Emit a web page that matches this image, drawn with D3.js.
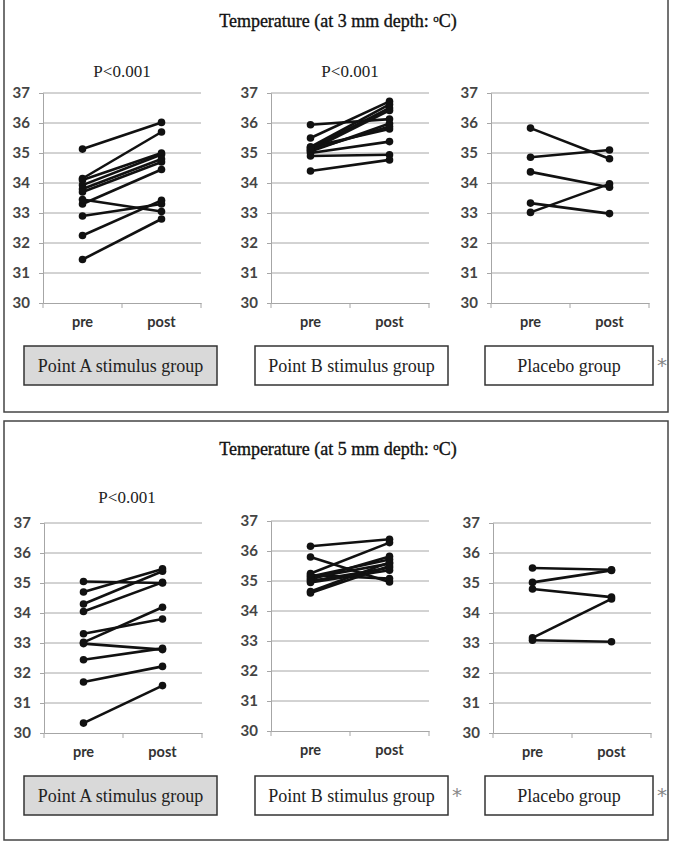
<!DOCTYPE html>
<html>
<head>
<meta charset="utf-8">
<script src="https://cdn.jsdelivr.net/npm/d3@7"></script>
<style>
  html, body { margin: 0; padding: 0; background: #fff; }
  svg { display: block; }
</style>
</head>
<body>
<svg id="chart" width="673" height="850"></svg>
<script>
// ---------------- DATA ----------------
const categories = ["pre", "post"];
const yTicks = [30, 31, 32, 33, 34, 35, 36, 37];
const groupNames = ["Point A stimulus group", "Point B stimulus group", "Placebo group"];
const titles = ["Temperature (at 3 mm depth: ", "Temperature (at 5 mm depth: "];
const pLabels3mm = ["P<0.001", "P<0.001", ""];
const pLabels5mm = ["P<0.001", "", ""];
const asterisks3mm = [false, false, true];
const asterisks5mm = [false, true, true];

// 3 mm depth
const d3mmA_pre  = [35.13, 34.15, 34.10, 33.93, 33.80, 33.70, 33.30, 33.45, 32.90, 32.25, 31.45];
const d3mmA_post = [36.02, 35.70, 35.00, 34.95, 34.80, 34.70, 34.45, 33.05, 33.30, 33.42, 32.80];
const d3mmB_pre  = [35.94, 35.50, 35.20, 35.15, 35.10, 35.05, 35.20, 35.10, 35.00, 34.90, 34.40];
const d3mmB_post = [36.13, 36.72, 36.62, 36.50, 36.42, 35.98, 35.80, 35.88, 35.38, 34.94, 34.77];
const d3mmP_pre  = [35.83, 34.86, 34.37, 33.33, 33.02];
const d3mmP_post = [34.81, 35.10, 33.86, 32.98, 33.97];

// 5 mm depth
const d5mmA_pre  = [35.05, 34.70, 34.30, 34.05, 33.31, 33.02, 32.98, 32.44, 31.70, 30.33];
const d5mmA_post = [35.00, 35.47, 35.39, 35.02, 33.80, 34.19, 32.78, 32.82, 32.22, 31.58];
const d5mmB_pre  = [36.16, 35.80, 35.25, 35.20, 35.15, 35.10, 35.05, 35.00, 34.95, 34.65, 34.60];
const d5mmB_post = [36.39, 34.97, 36.28, 35.08, 35.72, 35.58, 35.82, 35.44, 35.36, 35.62, 35.50];
const d5mmP_pre  = [35.50, 35.02, 34.80, 33.17, 33.09];
const d5mmP_post = [35.44, 35.42, 34.53, 34.47, 33.04];

const sections = [
  { pre: [d3mmA_pre, d3mmB_pre, d3mmP_pre], post: [d3mmA_post, d3mmB_post, d3mmP_post],
    p: pLabels3mm, ast: asterisks3mm, title: titles[0] },
  { pre: [d5mmA_pre, d5mmB_pre, d5mmP_pre], post: [d5mmA_post, d5mmB_post, d5mmP_post],
    p: pLabels5mm, ast: asterisks5mm, title: titles[1] }
];

// ---------------- LAYOUT ----------------
const layout = [
  { box: [4, -2, 664, 414], titleY: 27, pY: 77, pX: [122, 350, 0],
    x0: [43, 271, 491], y37: [93, 93, 93], groupY: 346 },
  { box: [4, 421, 664, 419], titleY: 455, pY: 503, pX: [127, 0, 0],
    x0: [44, 271, 493], y37: [523, 521, 523], groupY: 776 }
];
const panelW = 158, panelH = 210;
const groupBoxes = [[24, 193], [255, 193], [485, 168]];
const groupBoxH = 39;

const svg = d3.select("#chart");
const serif = "'Liberation Serif', 'DejaVu Serif', serif";
const sans = "Lato, 'Open Sans', 'Liberation Sans', sans-serif";
const gridColor = "#a6a6a6";

sections.forEach((sec, si) => {
  const L = layout[si];
  // outer frame
  svg.append("rect")
    .attr("x", L.box[0]).attr("y", L.box[1])
    .attr("width", L.box[2]).attr("height", L.box[3])
    .attr("fill", "none").attr("stroke", "#444").attr("stroke-width", 1.5);

  // title
  const t = svg.append("text")
    .attr("x", 338).attr("y", L.titleY)
    .attr("text-anchor", "middle")
    .attr("font-family", serif).attr("font-size", 18)
    .attr("fill", "#111").attr("stroke", "#111").attr("stroke-width", 0.35);
  t.append("tspan").text(sec.title);
  t.append("tspan").text("o").attr("font-size", 11).attr("dy", -5);
  t.append("tspan").text("C)").attr("dy", 5);

  for (let g = 0; g < 3; g++) {
    const x0 = L.x0[g], y37 = L.y37[g];
    const x = d3.scaleBand().domain(categories).range([x0, x0 + panelW]);
    const xc = c => x(c) + x.bandwidth() / 2;
    const y = d3.scaleLinear().domain([30, 37]).range([y37 + panelH, y37]);

    const gp = svg.append("g");

    // gridlines
    gp.selectAll(".grid").data(yTicks.filter(v => v > 30)).enter()
      .append("line")
      .attr("x1", x0).attr("x2", x0 + panelW)
      .attr("y1", d => y(d)).attr("y2", d => y(d))
      .attr("stroke", gridColor).attr("stroke-width", 1);

    // y axis
    const yAxis = d3.axisLeft(y).tickValues(yTicks).tickSize(4).tickPadding(9).tickFormat(d3.format("d"));
    const ya = gp.append("g").attr("transform", `translate(${x0},0)`).call(yAxis);
    ya.select(".domain").attr("stroke", gridColor);
    ya.selectAll(".tick line").attr("stroke", gridColor);
    ya.selectAll(".tick text")
      .attr("font-family", sans).attr("font-size", 15).attr("font-weight", "bold")
      .attr("fill", "#444");

    // x axis
    const xAxis = d3.axisBottom(x).tickSize(0).tickPadding(14);
    const xa = gp.append("g").attr("transform", `translate(0,${y(30)})`).call(xAxis);
    xa.select(".domain").attr("stroke", gridColor);
    xa.selectAll(".tick text")
      .attr("font-family", sans).attr("font-size", 14.5).attr("font-weight", "bold")
      .attr("fill", "#333");
    // boundary ticks
    const bounds = [x0, x0 + panelW / 2, x0 + panelW];
    gp.selectAll(".bt").data(bounds).enter().append("line")
      .attr("x1", d => d).attr("x2", d => d)
      .attr("y1", y(30)).attr("y2", y(30) + 5)
      .attr("stroke", gridColor);

    // lines
    const pre = sec.pre[g], post = sec.post[g];
    const pairs = pre.map((v, i) => [v, post[i]]);
    gp.selectAll(".pl").data(pairs).enter().append("line")
      .attr("x1", xc("pre")).attr("x2", xc("post"))
      .attr("y1", d => y(d[0])).attr("y2", d => y(d[1]))
      .attr("stroke", "#111").attr("stroke-width", 2.6);
    const pts = [];
    pairs.forEach(d => { pts.push(["pre", d[0]]); pts.push(["post", d[1]]); });
    gp.selectAll(".pt").data(pts).enter().append("circle")
      .attr("cx", d => xc(d[0])).attr("cy", d => y(d[1]))
      .attr("r", 3.8).attr("fill", "#111");

    // P label
    if (sec.p[g]) {
      svg.append("text")
        .attr("x", L.pX[g]).attr("y", L.pY)
        .attr("text-anchor", "middle")
        .attr("font-family", serif).attr("font-size", 17)
        .attr("fill", "#222").text(sec.p[g]);
    }

    // group box
    const gb = groupBoxes[g];
    svg.append("rect")
      .attr("x", gb[0]).attr("y", L.groupY)
      .attr("width", gb[1]).attr("height", groupBoxH)
      .attr("fill", g === 0 ? "#d9d9d9" : "#fff")
      .attr("stroke", "#333").attr("stroke-width", 1.5);
    svg.append("text")
      .attr("x", gb[0] + gb[1] / 2).attr("y", L.groupY + groupBoxH / 2 + 6)
      .attr("text-anchor", "middle")
      .attr("font-family", serif).attr("font-size", 18)
      .attr("fill", "#222").text(groupNames[g]);
    if (sec.ast[g]) {
      svg.append("text")
        .attr("x", gb[0] + gb[1] + 9).attr("y", L.groupY + 26)
        .attr("text-anchor", "middle")
        .attr("font-family", "'DejaVu Sans', sans-serif").attr("font-size", 20)
        .attr("fill", "#888").text("*");
    }
  }
});
</script>
</body>
</html>
